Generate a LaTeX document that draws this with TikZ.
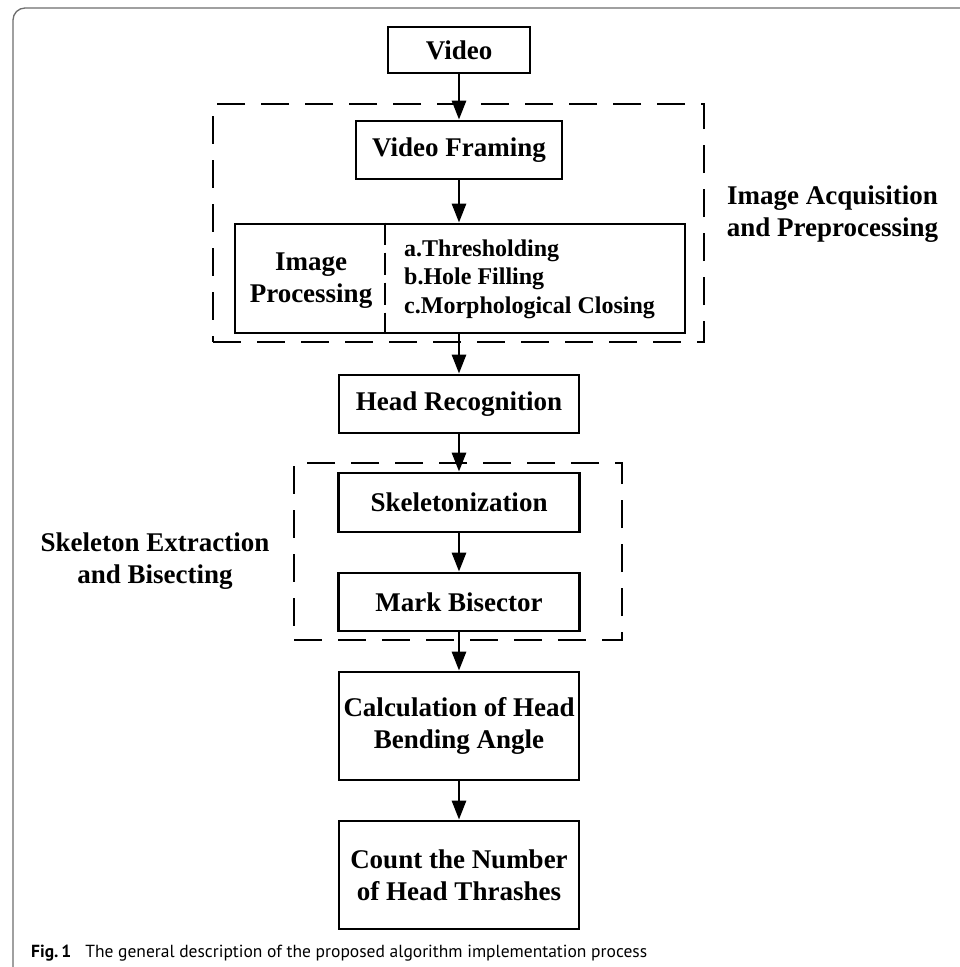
\documentclass[tikz,border=0pt]{standalone}
\usepackage{fontspec}
\setmainfont{Liberation Serif}
\newfontfamily\capfont{PT Sans}
\usetikzlibrary{arrows.meta}
\definecolor{framegray}{RGB}{110,110,110}
\begin{document}
\begin{tikzpicture}[x=1pt,y=-1pt,
  proc/.style={draw, line width=2.8pt, inner sep=0pt, align=center,
    font=\fontsize{27}{32}\selectfont\bfseries},
  grp/.style={draw, line width=2pt, dash pattern=on 28pt off 16pt, inner sep=0pt},
  lbl/.style={align=center, inner sep=0pt, font=\fontsize{27}{32}\selectfont\bfseries},
  arr/.style={line width=2.8pt, -{Triangle[length=19pt,width=14pt]}},
  divline/.style={line width=2pt, dash pattern=on 22pt off 8pt}
]
\useasboundingbox (0,0) rectangle (959,967);
\fill[white] (0,0) rectangle (959,967);
% outer frame
\draw[framegray, line width=1.3pt, rounded corners=12pt] (13,968) -- (13,8) -- (960,8);

% group boxes
\node[grp, minimum width=491pt, minimum height=238pt] (g1) at (458.5,223) {};
\node[grp, minimum width=328pt, minimum height=177pt] (g2) at (458,551.5) {};

% process boxes
\node[proc, minimum width=142pt, minimum height=46pt] (video) at (459,50) {Video};
\node[proc, minimum width=206pt, minimum height=58pt] (vframing) at (459,150) {Video Framing};
\node[proc, minimum width=450pt, minimum height=109pt] (improc) at (460,278.5) {};
\node[lbl] (iplabel) at (311,281) {Image\\Processing};
\node[anchor=west, align=left, inner sep=0pt, font=\fontsize{24}{28.5}\selectfont\bfseries] (ipitems) at (404,279) {a.Thresholding\\b.Hole Filling\\c.Morphological Closing};
\draw[divline] ([xshift=151pt]improc.north west) -- ([xshift=151pt]improc.south west);

\node[proc, minimum width=240pt, minimum height=58pt] (headrec) at (459,404) {Head Recognition};
\node[proc, minimum width=241pt, minimum height=59pt] (skel) at (459,502.5) {Skeletonization};
\node[proc, minimum width=241pt, minimum height=58pt] (mark) at (459,602) {Mark Bisector};
\node[proc, minimum width=240pt, minimum height=108pt] (calc) at (459,726) {Calculation of Head\\Bending Angle};
\node[proc, minimum width=240pt, minimum height=108pt] (count) at (459,875) {Count the Number\\of Head Thrashes};

% group labels
\node[lbl] (lblacq) at (832.5,214) {Image Acquisition\\and Preprocessing};
\node[lbl] (lblskel) at (155,561) {Skeleton Extraction\\and Bisecting};

% arrows
\draw[arr] (video) -- (vframing);
\draw[arr] (vframing.south) -- (vframing.south |- improc.north);
\draw[arr] (headrec.north |- improc.south) -- (headrec.north);
\draw[arr] (headrec) -- (skel);
\draw[arr] (skel) -- (mark);
\draw[arr] (mark) -- (calc);
\draw[arr] (calc) -- (count);

% caption
\node[anchor=base west, inner sep=0pt, font=\capfont\fontsize{17.5}{20}\selectfont] (caption) at (31,957)
  {\textbf{Fig.\,1}\hspace{14pt}The general description of the proposed algorithm implementation process};
\end{tikzpicture}
\end{document}
